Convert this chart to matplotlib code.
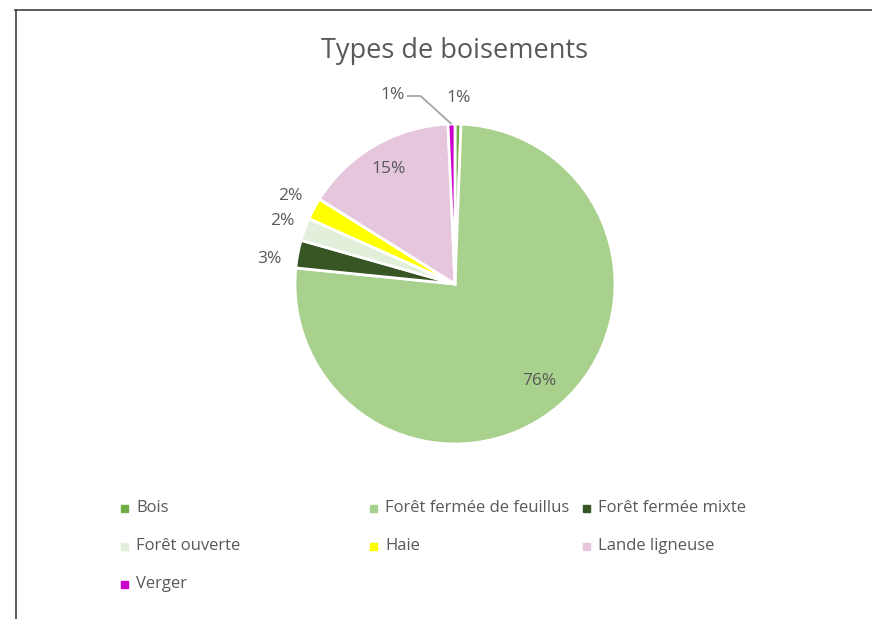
import numpy as np
import matplotlib
matplotlib.use("Agg")
import matplotlib.pyplot as plt
from matplotlib.lines import Line2D
from matplotlib.patches import Rectangle

categories = ["Bois", "Forêt fermée de feuillus", "Forêt fermée mixte",
              "Forêt ouverte", "Haie", "Lande ligneuse", "Verger"]
values = [0.6, 76.0, 2.8, 2.3, 2.2, 15.4, 0.7]
labels = ["1%", "76%", "3%", "2%", "2%", "15%", "1%"]
colors = ["#70AD47", "#A9D18E", "#375623", "#E2EFDA", "#FFFF00", "#E6C6DC", "#CC00CC"]

txt = "#595959"
plt.rcParams['font.family'] = ['Open Sans', 'DejaVu Sans']

W, H = 872, 619
fig = plt.figure(figsize=(W / 100, H / 100), dpi=100)
# pie centre at (455, 284), radius 160 px
cx, cy, R = 455, 284, 160
ax = fig.add_axes([(cx - R) / W, 1 - (cy + R) / H, 2 * R / W, 2 * R / H])
wedges, _ = ax.pie(values, colors=colors, startangle=90, counterclock=False,
                   wedgeprops=dict(edgecolor="white", linewidth=2))
ax.set_aspect("equal")
ax.set_xlim(-1, 1)
ax.set_ylim(-1, 1)
ax.axis("off")

# label radii / small angle nudges per slice (inside for large, outside for small)
radii = [1.16, 0.8, 1.17, 1.15, 1.17, 0.83, None]
nudge = [0, 0, 3, 0, 0, 0, 0]
for w, lab, r, d in zip(wedges, labels, radii, nudge):
    if r is None:
        continue
    mid = np.deg2rad((w.theta1 + w.theta2) / 2 + d)
    ax.text(r * np.cos(mid), r * np.sin(mid), lab, ha="center", va="center",
            fontsize=12.5, color=txt, clip_on=False)

# Verger label with leader line
w = wedges[-1]
mid = np.deg2rad((w.theta1 + w.theta2) / 2)
x0, y0 = np.cos(mid), np.sin(mid)
ax.text(-0.39, 1.18, labels[-1], ha="center", va="center", fontsize=12.5,
        color=txt, clip_on=False)
ax.plot([-0.30, -0.215, x0], [1.175, 1.175, y0], color="#A6A6A6", lw=1.3,
        clip_on=False, solid_capstyle="butt")

fig.text(cx / W, 1 - 51 / H, "Types de boisements", ha="center", va="center",
         fontsize=19.5, color=txt)

# legend, row-major as in the original
col_x = [121, 370, 583]
row_y = [508, 546, 584]
for i, (c, name) in enumerate(zip(colors, categories)):
    x = col_x[i % 3]
    y = row_y[i // 3]
    fig.add_artist(Rectangle((x / W, 1 - (y + 3.5) / H), 7 / W, 7 / H,
                             color=c, transform=fig.transFigure))
    fig.text((x + 15) / W, 1 - y / H, name, ha="left", va="center",
             fontsize=12, color=txt)

# chart frame (top and left edges visible)
fig.add_artist(Line2D([15 / W, 1], [1 - 9.5 / H, 1 - 9.5 / H], color="#404040", lw=1.2))
fig.add_artist(Line2D([15.5 / W, 15.5 / W], [0, 1 - 9.5 / H], color="#404040", lw=1.2))

fig.savefig("out.png", dpi=100, facecolor="white")
